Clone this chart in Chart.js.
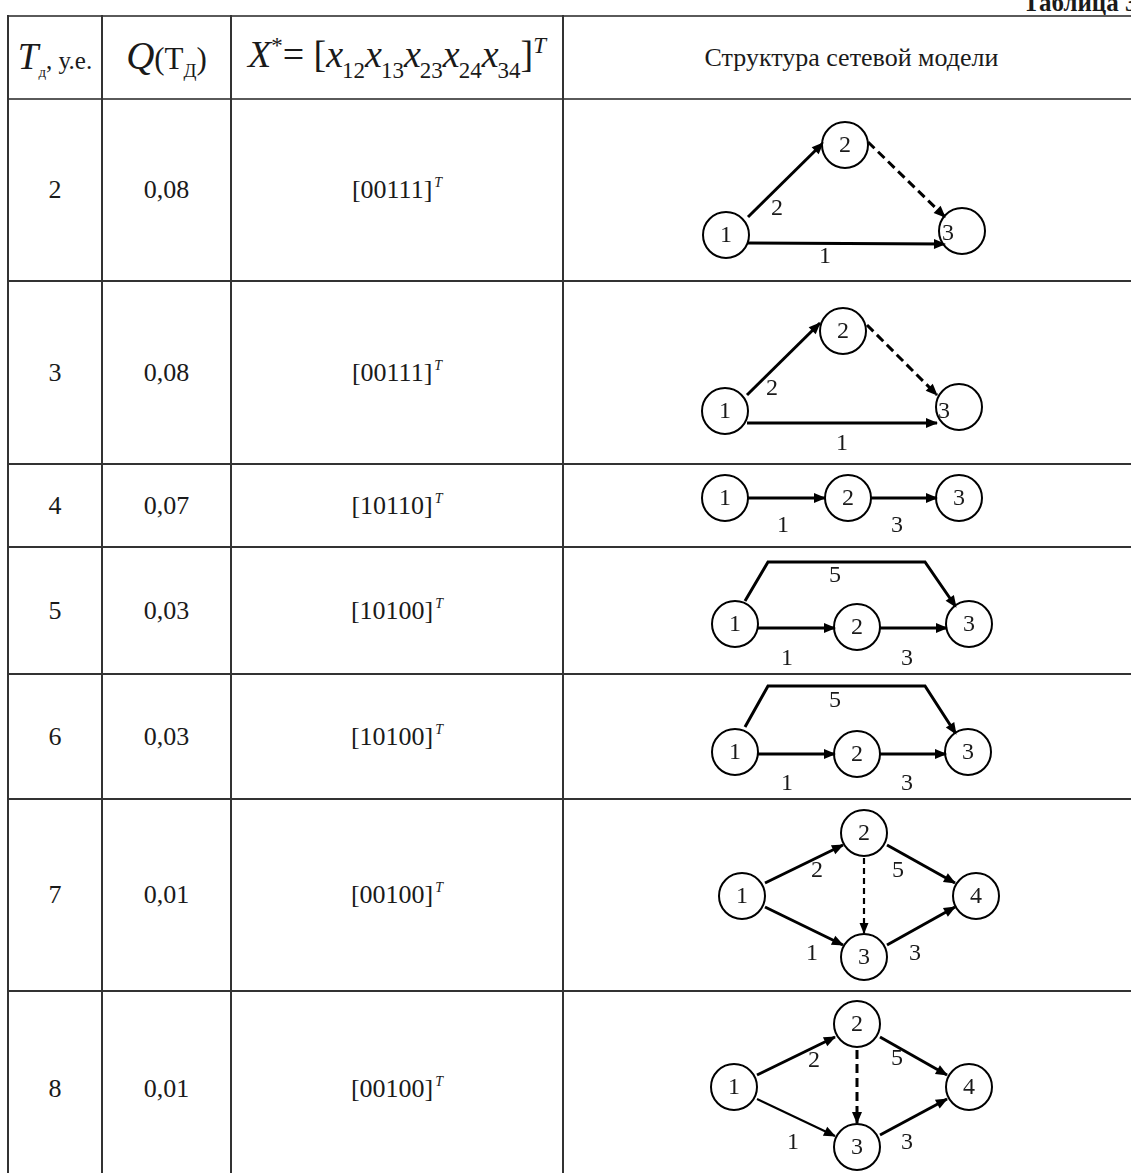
<!DOCTYPE html>
<html lang="ru">
<head>
<meta charset="utf-8">
<title>Таблица 3</title>
<script src="https://cdn.jsdelivr.net/npm/chart.js"></script>
<style>
html,body{margin:0;padding:0;background:#fff;}
body{width:1131px;height:1173px;overflow:hidden;position:relative;
     font-family:"Liberation Serif","Times New Roman",serif;color:#1a1a1a;}
.cell{position:absolute;display:flex;align-items:center;justify-content:center;
      font-size:26px;white-space:nowrap;}
.hl{position:absolute;height:2px;background:#3a3a3a;z-index:3;}
.vl{position:absolute;width:2px;background:#333;z-index:3;}
.net{position:absolute;z-index:1;}
.tt{font-size:14px;font-style:italic;vertical-align:11px;margin-left:2px;}
.title{position:absolute;left:1023px;top:-10px;font-size:25px;font-weight:bold;line-height:1;white-space:nowrap;}
.h1 .big{font-size:37px;font-style:italic;}
.h1 .sb{font-size:15px;vertical-align:-8px;}
.h1 .sm{font-size:25px;}
.h2 .big{font-size:39px;font-style:italic;}
.h2 .mid{font-size:31px;}
.h2 .sb{font-size:19px;vertical-align:-8px;}
.h3{font-size:38px;}
.h3 i{font-style:italic;}
.h3 .sb{font-size:23px;vertical-align:-11px;margin-left:-1px;}
.h3 .sp{font-size:23px;vertical-align:14px;}
</style>
</head>
<body>
<div class="title">Таблица 3</div>
<script>
// =========================
// Table values
// =========================
const tValues = ["2", "3", "4", "5", "6", "7", "8"];
const qValues = ["0,08", "0,08", "0,07", "0,03", "0,03", "0,01", "0,01"];
const xValues = ["00111", "00111", "10110", "10100", "10100", "00100", "00100"];

// =========================
// Network models (cell units)
// =========================
const nodesRow2 = [[163, 136], [282, 46], [399, 132]];
const edgesRow2 = [
    {kind: "solid", path: [[185, 118], [260, 44]], label: "2", at: [214, 109]},
    {kind: "dashed", path: [[305, 43], [382, 118]]},
    {kind: "solid", path: [[185, 144], [382, 145]], label: "1", at: [262, 157]}
];

const nodesRow3 = [[162, 130], [280, 50], [396, 126]];
const edgesRow3 = [
    {kind: "solid", path: [[184, 114], [257, 42]], label: "2", at: [209, 107]},
    {kind: "dashed", path: [[304, 44], [374, 114]]},
    {kind: "solid", path: [[184, 142], [374, 142]], label: "1", at: [279, 162]}
];

const nodesRow4 = [[162, 34], [285, 34], [396, 34]];
const edgesRow4 = [
    {kind: "solid", path: [[185, 34], [262, 34]], label: "1", at: [220, 61]},
    {kind: "solid", path: [[307, 34], [374, 34]], label: "3", at: [334, 61]}
];

const nodesRow5 = [[172, 77], [294, 80], [406, 77]];
const edgesRow5 = [
    {kind: "solid", path: [[195, 81], [272, 81]], label: "1", at: [224, 111]},
    {kind: "solid", path: [[317, 81], [384, 81]], label: "3", at: [344, 111]},
    {kind: "solid", path: [[182, 54], [205, 15], [362, 15], [393, 60]], label: "5", at: [272, 28]}
];

const nodesRow6 = [[172, 78], [294, 80], [405, 78]];
const edgesRow6 = [
    {kind: "solid", path: [[195, 80], [272, 80]], label: "1", at: [224, 109]},
    {kind: "solid", path: [[317, 80], [383, 80]], label: "3", at: [344, 109]},
    {kind: "solid", path: [[182, 53], [205, 12], [362, 12], [393, 60]], label: "5", at: [272, 26]}
];

const nodesRow7 = [[179, 97], [301, 34], [301, 158], [413, 97]];
const edgesRow7 = [
    {kind: "solid", path: [[202, 84], [280, 46]], label: "2", at: [254, 71]},
    {kind: "solid", path: [[202, 108], [280, 146]], label: "1", at: [249, 154]},
    {kind: "fineDash", path: [[301, 59], [301, 134]]},
    {kind: "solid", path: [[324, 46], [392, 84]], label: "5", at: [335, 71]},
    {kind: "solid", path: [[324, 146], [392, 108]], label: "3", at: [352, 154]}
];

const nodesRow8 = [[171, 96], [294, 33], [294, 156], [406, 96]];
const edgesRow8 = [
    {kind: "solid", path: [[194, 84], [272, 46]], label: "2", at: [251, 69]},
    {kind: "thin", path: [[194, 108], [272, 145]], label: "1", at: [230, 151]},
    {kind: "dashed", path: [[294, 59], [294, 132]]},
    {kind: "solid", path: [[317, 46], [384, 84]], label: "5", at: [334, 67]},
    {kind: "solid", path: [[317, 144], [384, 108]], label: "3", at: [344, 151]}
];

const netNodes = [nodesRow2, nodesRow3, nodesRow4, nodesRow5, nodesRow6, nodesRow7, nodesRow8];
const netEdges = [edgesRow2, edgesRow3, edgesRow4, edgesRow5, edgesRow6, edgesRow7, edgesRow8];

// =========================
// Layout / styles
// =========================
const colX = [8, 102, 231, 563, 1140];
const rowY = [16, 99, 281, 464, 547, 674, 799, 991, 1186];

const edgeStyle = {
    solid:    {width: 3,   dash: [],     head: 11, half: 5},
    dashed:   {width: 3,   dash: [9, 5], head: 11, half: 5},
    fineDash: {width: 2.2, dash: [6, 4], head: 10, half: 4.5},
    thin:     {width: 2,   dash: [],     head: 11, half: 5}
};

// node text shifted off centre in the triangle models
const labelShift = [{2: [-14, 2]}, {2: [-15, 4]}, {}, {}, {}, {}, {}];

const sheet = document.body;

function addDiv(cls, css, html){
    const d = document.createElement("div");
    d.className = cls;
    Object.assign(d.style, css);
    if(html !== undefined) d.innerHTML = "<span>" + html + "</span>";
    sheet.appendChild(d);
    return d;
}

function cellBox(c, r){
    return {
        left: colX[c] + "px",
        top: rowY[r] + "px",
        width: (colX[c + 1] - colX[c]) + "px",
        height: (rowY[r + 1] - rowY[r]) + "px"
    };
}

//-------------------------
// Header
//-------------------------
addDiv("cell h1", cellBox(0, 0),
    '<span class="big">T</span><span class="sb">д</span><span class="sm">, у.е.</span>');
addDiv("cell h2", cellBox(1, 0),
    '<span class="big">Q</span><span class="mid">(Т<span class="sb">Д</span>)</span>');
addDiv("cell h3", cellBox(2, 0),
    '<i>X</i><span class="sp">*</span>= [<i>x</i><span class="sb">12</span><i>x</i><span class="sb">13</span>' +
    '<i>x</i><span class="sb">23</span><i>x</i><span class="sb">24</span><i>x</i><span class="sb">34</span>]' +
    '<span class="sp"><i>T</i></span>');
addDiv("cell", cellBox(3, 0), "Структура сетевой модели");

//-------------------------
// Network plugin
//-------------------------
const netMarks = {
    id: "netMarks",
    afterDatasetsDraw(chart){
        const ctx = chart.ctx;
        const xs = chart.scales.x;
        const ys = chart.scales.y;

        ctx.save();
        ctx.fillStyle = "#000";

        chart.data.datasets.forEach((ds, i) => {
            if(!ds.edge) return;
            const pts = chart.getDatasetMeta(i).data;
            const a = pts[pts.length - 2];
            const b = pts[pts.length - 1];
            const ang = Math.atan2(b.y - a.y, b.x - a.x);
            const st = edgeStyle[ds.edge.kind];
            const c = Math.cos(ang), s = Math.sin(ang);
            ctx.beginPath();
            ctx.moveTo(b.x + c, b.y + s);
            ctx.lineTo(b.x - c * st.head + s * st.half, b.y - s * st.head - c * st.half);
            ctx.lineTo(b.x - c * st.head - s * st.half, b.y - s * st.head + c * st.half);
            ctx.closePath();
            ctx.fill();
        });

        ctx.fillStyle = "#1a1a1a";
        ctx.font = "24px 'Liberation Serif', serif";
        ctx.textAlign = "center";
        ctx.textBaseline = "middle";

        const opts = chart.options.plugins.netMarks;

        // edge weights
        opts.edges.forEach(e => {
            if(!e.label) return;
            ctx.fillText(e.label, xs.getPixelForValue(e.at[0]), ys.getPixelForValue(e.at[1]) + 1);
        });

        // node numbers
        const meta = chart.getDatasetMeta(0);
        meta.data.forEach((p, k) => {
            const sh = opts.shift[k] || [0, 0];
            ctx.fillText(String(k + 1), p.x + sh[0], p.y + sh[1] + 1);
        });

        ctx.restore();
    }
};

function drawNetwork(canvas, nodes, edges, shift, w, h){

    const datasets = [{
        type: "scatter",
        data: nodes.map(p => ({x: p[0], y: p[1]})),
        pointRadius: 23,
        pointHoverRadius: 23,
        pointBorderWidth: 2,
        pointBackgroundColor: "#fff",
        pointBorderColor: "#000",
        order: 0,
        clip: false
    }];

    edges.forEach(e => {
        const st = edgeStyle[e.kind];
        datasets.push({
            type: "line",
            edge: e,
            data: e.path.map(p => ({x: p[0], y: p[1]})),
            borderColor: "#000",
            borderWidth: st.width,
            borderDash: st.dash,
            borderCapStyle: "butt",
            borderJoinStyle: "miter",
            pointRadius: 0,
            pointHoverRadius: 0,
            tension: 0,
            fill: false,
            order: 1,
            clip: false
        });
    });

    return new Chart(canvas, {
        type: "scatter",
        data: {datasets: datasets},
        options: {
            responsive: false,
            animation: false,
            devicePixelRatio: 1,
            events: [],
            layout: {padding: 0, autoPadding: false},
            plugins: {
                legend: {display: false},
                tooltip: {enabled: false},
                netMarks: {edges: edges, shift: shift}
            },
            scales: {
                x: {type: "linear", min: 0, max: w, display: false},
                y: {type: "linear", min: 0, max: h, reverse: true, display: false}
            }
        },
        plugins: [netMarks]
    });
}

//-------------------------
// Rows
//-------------------------
tValues.forEach((t, i) => {
    const r = i + 1;
    addDiv("cell", cellBox(0, r), t);
    addDiv("cell", cellBox(1, r), qValues[i]);
    addDiv("cell", cellBox(2, r), "[" + xValues[i] + ']<span class="tt">T</span>');

    const w = 1131 - colX[3];
    const h = rowY[r + 1] - rowY[r];
    const cv = document.createElement("canvas");
    cv.className = "net";
    cv.width = w;
    cv.height = h;
    cv.style.left = colX[3] + "px";
    cv.style.top = rowY[r] + "px";
    cv.style.width = w + "px";
    cv.style.height = h + "px";
    sheet.appendChild(cv);

    drawNetwork(cv, netNodes[i], netEdges[i], labelShift[i], w, h);
});

//-------------------------
// Grid lines
//-------------------------
rowY.forEach((y, k) => {
    if(k === rowY.length - 1) return;
    addDiv("hl", {left: colX[0] + "px", top: (y - 1) + "px", width: (1131 - colX[0]) + "px",
        background: k < 2 ? "#5a5a5a" : "#333"});
});
colX.forEach((x, k) => {
    if(k === colX.length - 1) return;
    addDiv("vl", {left: (x - 1) + "px", top: (rowY[0] - 1) + "px", height: (1173 - rowY[0] + 1) + "px"});
});
</script>
</body>
</html>
